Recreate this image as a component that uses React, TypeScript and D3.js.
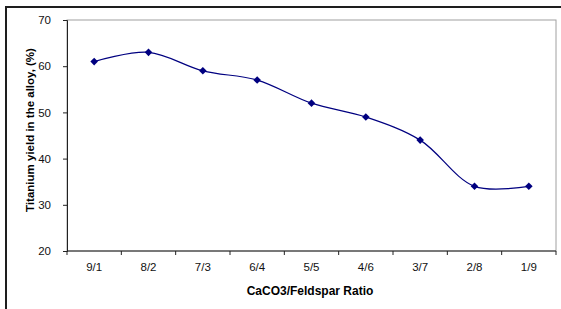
import React, { useEffect, useRef } from "react";
import * as d3 from "d3";

const ratios = ["9/1", "8/2", "7/3", "6/4", "5/5", "4/6", "3/7", "2/8", "1/9"];
const yieldPct = [61, 63, 59, 57, 52, 49, 44, 34, 34];
const yTicks = [20, 30, 40, 50, 60, 70];

const W = 561, H = 309;
const m = { left: 67, right: 556, top: 20, bottom: 251 };
const font = "'Liberation Sans', Arial, sans-serif";

export default function App() {
  const ref = useRef<SVGSVGElement>(null);

  useEffect(() => {
    const svg = d3.select(ref.current);
    svg.selectAll("*").remove();

    var x = d3.scaleBand().domain(ratios).range([m.left, m.right]);
    var y = d3.scaleLinear().domain([20, 70]).range([m.bottom, m.top]);

    // outer frame (right/bottom edges fall outside the picture)
    svg.append("rect")
      .attr("x", 6).attr("y", 7)
      .attr("width", 700).attr("height", 500)
      .attr("fill", "white")
      .attr("stroke", "#1e1e1e").attr("stroke-width", 2);

    // plot area frame
    svg.append("rect")
      .attr("x", m.left).attr("y", m.top)
      .attr("width", m.right - m.left).attr("height", m.bottom - m.top)
      .attr("fill", "none").attr("stroke", "#a0a0a0").attr("stroke-width", 1);

    // y axis
    var yAxis = svg.append("g").attr("transform", "translate(" + m.left + ",0)")
      .call(d3.axisLeft(y).tickValues(yTicks).tickSize(4).tickPadding(12));
    yAxis.select(".domain").attr("stroke", "#222");
    yAxis.selectAll(".tick line").attr("stroke", "#222");
    yAxis.selectAll("text").attr("font-family", font).attr("font-size", 11.5).attr("fill", "#111");

    // x axis: ticks at category boundaries
    var xg = svg.append("g").attr("transform", "translate(0," + m.bottom + ")");
    xg.append("line").attr("x1", m.left).attr("x2", m.right).attr("stroke", "#222");
    var bounds = ratios.map(r => x(r) as number).concat([m.right]);
    xg.selectAll(".tk").data(bounds).enter().append("line")
      .attr("x1", d => d).attr("x2", d => d).attr("y1", 0).attr("y2", 4)
      .attr("stroke", "#222");
    xg.selectAll(".lbl").data(ratios).enter().append("text")
      .attr("x", d => (x(d) as number) + x.bandwidth() / 2)
      .attr("y", 20)
      .attr("text-anchor", "middle")
      .attr("font-family", font).attr("font-size", 11.5).attr("fill", "#111")
      .text(d => d);

    // titles
    svg.append("text")
      .attr("x", 310).attr("y", 295)
      .attr("text-anchor", "middle")
      .attr("font-family", font).attr("font-size", 12).attr("font-weight", "bold")
      .text("CaCO3/Feldspar Ratio");
    svg.append("text")
      .attr("transform", "translate(34,130) rotate(-90)")
      .attr("text-anchor", "middle")
      .attr("font-family", font).attr("font-size", 11.5).attr("font-weight", "bold")
      .text("Titanium yield in the alloy, (%)");

    // smoothed line
    var pts: [number, number][] = ratios.map((r, i) => [(x(r) as number) + x.bandwidth() / 2, y(yieldPct[i])]);
    var line = d3.line().curve(d3.curveCatmullRom.alpha(0.5));
    svg.append("path").attr("d", line(pts))
      .attr("fill", "none").attr("stroke", "#000080").attr("stroke-width", 1.2);

    // diamond markers
    svg.selectAll(".mk").data(pts).enter().append("path")
      .attr("transform", d => "translate(" + d[0] + "," + d[1] + ")")
      .attr("d", "M0,-3.8L3.8,0L0,3.8L-3.8,0Z")
      .attr("fill", "#000080");
  }, []);

  return (
    <svg ref={ref} width={W} height={H}
      style={{ position: "absolute", left: 0, top: 0, background: "white" }} />
  );
}
